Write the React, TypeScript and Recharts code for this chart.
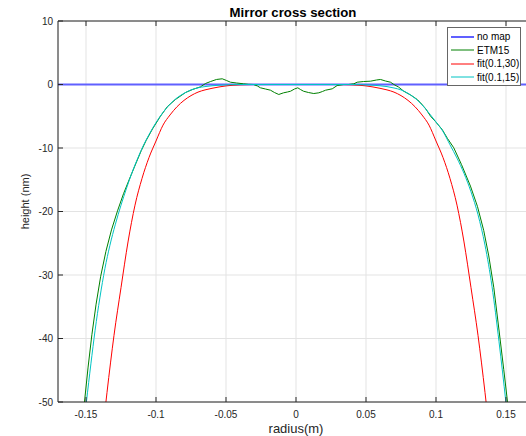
import React from 'react';
import { LineChart, Line, XAxis, YAxis, CartesianGrid, Legend } from 'recharts';

// Axis ticks
const xTicks = [-0.15, -0.1, -0.05, 0, 0.05, 0.1, 0.15];
const xTickLabels = ['-0.15', '-0.1', '-0.05', '0', '0.05', '0.1', '0.15'];
const yTicks = [10, 0, -10, -20, -30, -40, -50];

// Flat reference ("no map")
const noMapRadius = [-0.17, 0.17];
const noMapHeight = [0, 0];

// Measured ETM15 profile (m, nm)
const etmRadius = [
  -0.1528, -0.1511, -0.1485, -0.1458, -0.1428, -0.1395, -0.1358, -0.1318, -0.1275, -0.1232,
  -0.119, -0.1145, -0.1105, -0.107, -0.1025, -0.0968, -0.0918, -0.0861, -0.0789, -0.0739,
  -0.0682, -0.0646, -0.061, -0.0568, -0.0527, -0.0496, -0.0468, -0.0425, -0.0375, -0.0339,
  -0.0304, -0.0275, -0.0254, -0.0218, -0.0182, -0.0154, -0.0123, -0.0089, -0.0061, -0.0039,
  -0.0011, 0.0013, 0.0032, 0.0054, 0.0089, 0.0127, 0.0163, 0.0189, 0.0211, 0.0259,
  0.0294, 0.0341, 0.0375, 0.0413, 0.0437, 0.0482, 0.0532, 0.0575, 0.0604, 0.0639,
  0.0675, 0.0699, 0.0732, 0.077, 0.0818, 0.0866, 0.0889, 0.0925, 0.0961, 0.0996,
  0.1044, 0.1082, 0.1127, 0.1182, 0.1246, 0.1296, 0.1341, 0.1377, 0.1413, 0.1449,
  0.1484, 0.1513, 0.153,
];
const etmHeight = [
  -54, -50, -44.5, -39.4, -34.6, -30.2, -26.3, -22.9, -19.9, -17.2,
  -14.9, -12.5, -10.4, -8.8, -7.0, -4.99, -3.46, -2.36, -1.26, -0.79,
  -0.36, 0.16, 0.47, 0.79, 0.9, 0.63, 0.36, 0.24, 0.11, 0.03,
  0, -0.24, -0.52, -0.71, -0.9, -1.26, -1.57, -1.31, -1.18, -1.06,
  -0.71, -0.52, -0.79, -1.06, -1.26, -1.42, -1.31, -1.1, -0.9, -0.68,
  -0.16, 0, 0, 0.11, 0.36, 0.47, 0.52, 0.71, 0.79, 0.55,
  0.36, 0, -0.39, -1.06, -1.65, -2.36, -2.88, -3.78, -4.99, -5.83,
  -7.09, -8.5, -9.97, -12.6, -16.0, -19.2, -23.0, -27.0, -32.0, -38.5,
  -44.9, -50.4, -54,
];

// fit(0.1,30): symmetric, height at |radius|
const fit30AbsRadius = [0, 0.03, 0.04, 0.05, 0.06, 0.065, 0.07, 0.075, 0.08, 0.085, 0.09, 0.095, 0.1, 0.105, 0.11, 0.115, 0.12, 0.125, 0.13, 0.135, 0.14];
const fit30Height = [0, 0, -0.05, -0.22, -0.6, -0.85, -1.2, -1.75, -2.5, -3.5, -4.8, -6.4, -8.9, -11.5, -14.8, -19.0, -24.8, -32, -39.5, -48.5, -58.5];

// fit(0.1,15): full profile
const fit15Radius = [
  -0.155, -0.1497, -0.1465, -0.1435, -0.1401, -0.1365, -0.133, -0.129, -0.125, -0.121,
  -0.117, -0.113, -0.109, -0.105, -0.1, -0.095, -0.09, -0.085, -0.08, -0.075,
  -0.07, -0.065, -0.06, -0.05, -0.04, 0, 0.04, 0.05, 0.06, 0.065,
  0.07, 0.075, 0.08, 0.085, 0.09, 0.095, 0.1, 0.105, 0.11, 0.115,
  0.12, 0.125, 0.13, 0.135, 0.14, 0.145, 0.1499, 0.155,
];
const fit15Height = [
  -61, -50, -44, -38.7, -33.6, -29, -25.4, -22, -19, -16.3,
  -13.8, -11.6, -9.6, -7.9, -6.0, -4.4, -3.1, -2.1, -1.4, -0.85,
  -0.52, -0.33, -0.2, -0.06, 0, 0, 0, -0.06, -0.2, -0.33,
  -0.55, -0.85, -1.4, -2.15, -3.2, -4.5, -5.9, -7.4, -9.5, -11.6,
  -14.0, -16.9, -20.5, -25.3, -31.8, -40.5, -50, -61,
];

const pairUp = (rs: number[], hs: number[]) => rs.map((r, i) => ({ r, h: hs[i] }));

const mirror = (rs: number[], hs: number[]) => {
  const right = pairUp(rs, hs);
  const left = right.filter((p) => p.r > 0).map((p) => ({ r: -p.r, h: p.h })).reverse();
  return [...left, ...right];
};

const noMapData = pairUp(noMapRadius, noMapHeight);
const etmData = pairUp(etmRadius, etmHeight);
const fit30Data = mirror(fit30AbsRadius, fit30Height);
const fit15Data = pairUp(fit15Radius, fit15Height);

const FONT = '"Liberation Sans", Arial, Helvetica, sans-serif';
const INK = '#262626';

const COLORS = {
  noMap: '#6060ff',
  etm: '#008000',
  fit30: '#ff0000',
  fit15: '#00c4c4',
};

const legendItems = [
  { name: 'no map', color: COLORS.noMap, width: 2 },
  { name: 'ETM15', color: COLORS.etm, width: 1 },
  { name: 'fit(0.1,30)', color: COLORS.fit30, width: 1 },
  { name: 'fit(0.1,15)', color: COLORS.fit15, width: 1 },
];

const LegendBox = () => (
  <div
    style={{
      border: '1px solid #666',
      background: '#fff',
      width: 74,
      height: 59,
      boxSizing: 'border-box',
      padding: '2px 0 0 3px',
      fontFamily: FONT,
      fontSize: 10,
      color: '#000',
    }}
  >
    {legendItems.map((it) => (
      <div key={it.name} style={{ display: 'flex', alignItems: 'center', height: 13.5 }}>
        <svg width={23} height={4} style={{ flex: 'none' }}>
          <line x1={0} x2={23} y1={2} y2={2} stroke={it.color} strokeWidth={it.width} />
        </svg>
        <span style={{ marginLeft: 3, whiteSpace: 'nowrap' }}>{it.name}</span>
      </div>
    ))}
  </div>
);

const Title = (props: any) => {
  const vb = props.viewBox || { x: 58, width: 476, y: 20 };
  const cx = vb.x + vb.width / 2 - 3;
  return (
    <text x={cx} y={vb.y - 3} textAnchor="middle" fontFamily={FONT} fontSize={13.2} fontWeight="bold" fill="#000">
      Mirror cross section
    </text>
  );
};

const YTitle = (props: any) => {
  const vb = props.viewBox || { y: 21, height: 381 };
  const cx = 25;
  const cy = vb.y + vb.height / 2 - 10;
  return (
    <text
      x={cx}
      y={cy}
      transform={`rotate(-90 ${cx} ${cy})`}
      textAnchor="middle"
      dominantBaseline="central"
      fontFamily={FONT}
      fontSize={11}
      fill={INK}
    >
      height (nm)
    </text>
  );
};

const tickStyle = { fontFamily: FONT, fontSize: 10, fill: INK };

export default function App() {
  return (
    <div style={{ position: 'fixed', left: 0, top: 0, width: 526, height: 436, overflow: 'hidden', background: '#fff' }}>
      <LineChart width={560} height={436} margin={{ top: 20, right: 26, bottom: 4, left: 0 }}>
        <CartesianGrid stroke="#e3e3e3" strokeWidth={1} />
        <XAxis
          dataKey="r"
          type="number"
          domain={[-0.17, 0.17]}
          allowDataOverflow
          ticks={xTicks}
          tickFormatter={(v: number) => xTickLabels[xTicks.indexOf(v)] ?? String(v)}
          height={30}
          tickSize={-5}
          tickMargin={14}
          tick={tickStyle}
          stroke={INK}
          label={{ value: 'radius(m)', position: 'insideBottom', offset: -1, fontFamily: FONT, fontSize: 13, fill: INK }}
        />
        <XAxis
          xAxisId="top"
          dataKey="r"
          type="number"
          orientation="top"
          domain={[-0.17, 0.17]}
          allowDataOverflow
          ticks={xTicks}
          tickFormatter={() => ''}
          height={1}
          tickSize={-5}
          stroke={INK}
          label={<Title />}
        />
        <YAxis
          type="number"
          domain={[-50, 10]}
          allowDataOverflow
          ticks={yTicks}
          width={58}
          tickSize={-5}
          tickMargin={10}
          tick={tickStyle}
          stroke={INK}
          label={<YTitle />}
        />
        <Line data={noMapData} dataKey="h" name="no map" type="linear" stroke={COLORS.noMap} strokeWidth={2} dot={false} activeDot={false} isAnimationActive={false} />
        <Line data={etmData} dataKey="h" name="ETM15" type="linear" stroke={COLORS.etm} strokeWidth={1} dot={false} activeDot={false} isAnimationActive={false} />
        <Line data={fit30Data} dataKey="h" name="fit(0.1,30)" type="monotone" stroke={COLORS.fit30} strokeWidth={1} dot={false} activeDot={false} isAnimationActive={false} />
        <Line data={fit15Data} dataKey="h" name="fit(0.1,15)" type="monotone" stroke={COLORS.fit15} strokeWidth={1} dot={false} activeDot={false} isAnimationActive={false} />
        <Legend
          layout="horizontal"
          verticalAlign="middle"
          align="center"
          content={<LegendBox />}
          wrapperStyle={{ position: 'absolute', left: 447, top: 27, width: 74, height: 59 }}
        />
      </LineChart>
    </div>
  );
}
